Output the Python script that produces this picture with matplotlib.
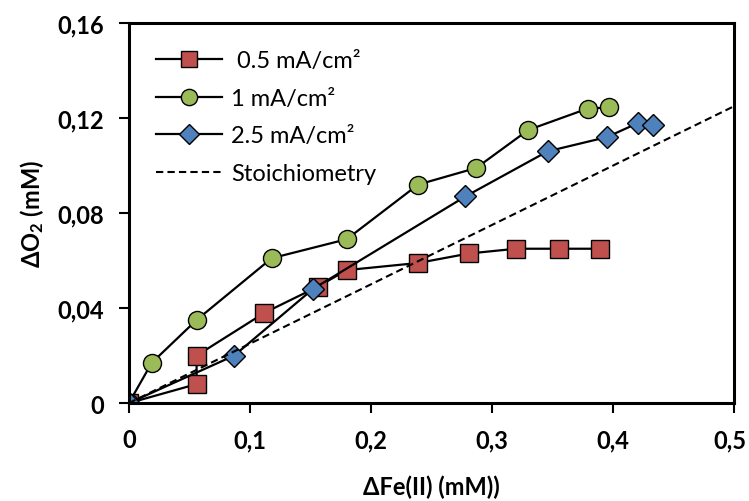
import matplotlib
matplotlib.use("Agg")
import matplotlib.pyplot as plt
import matplotlib.transforms as mtransforms
from matplotlib.ticker import FuncFormatter

plt.rcParams['font.family'] = ['Lato', 'DejaVu Sans']
plt.rcParams['mathtext.default'] = 'regular'

# 0.5 mA/cm2
fe_05 = [0.0, 0.056, 0.056, 0.112, 0.156, 0.180, 0.239, 0.281, 0.320, 0.355, 0.389]
o2_05 = [0.0, 0.008, 0.020, 0.038, 0.049, 0.056, 0.059, 0.063, 0.065, 0.065, 0.065]
# 1 mA/cm2
fe_1 = [0.0, 0.019, 0.056, 0.118, 0.180, 0.239, 0.287, 0.330, 0.379, 0.397]
o2_1 = [0.0, 0.017, 0.035, 0.061, 0.069, 0.092, 0.099, 0.115, 0.124, 0.1245]
# 2.5 mA/cm2
fe_25 = [0.0, 0.087, 0.152, 0.278, 0.346, 0.395, 0.421, 0.433]
o2_25 = [0.0, 0.020, 0.048, 0.087, 0.106, 0.112, 0.118, 0.117]
# stoichiometry line
fe_st = [0.0, 0.5]
o2_st = [0.0, 0.125]

fig = plt.figure(figsize=(7.49, 5.02), dpi=100)
ax = fig.add_axes([0.172, 0.195, 0.808, 0.757])

mk = dict(markeredgecolor='black', markeredgewidth=1.0, color='black', lw=1.6)
ax.plot(fe_05, o2_05, marker='s', ms=13, markerfacecolor='#C0504D', label=' 0.5 mA/cm²', **mk)
ax.plot(fe_1, o2_1, marker='o', ms=13, markerfacecolor='#9BBB59', label='1 mA/cm²', **mk)
ax.plot(fe_25, o2_25, marker='D', ms=11, markerfacecolor='#4F81BD', label='2.5 mA/cm²', **mk)
ax.plot(fe_st, o2_st, ls=(0, (3.5, 2)), color='black', lw=1.5, label='Stoichiometry')

ax.set_xlim(0, 0.5)
ax.set_ylim(0, 0.16)
ax.set_xticks([0, 0.1, 0.2, 0.3, 0.4, 0.5])
ax.set_yticks([0, 0.04, 0.08, 0.12, 0.16])
fmt = lambda v, p: ('%g' % round(v, 3)).replace('.', ',')
ax.xaxis.set_major_formatter(FuncFormatter(fmt))
ax.yaxis.set_major_formatter(FuncFormatter(fmt))
ax.tick_params(direction='out', length=7, width=1.5, pad=11, labelsize=17)
for t in ax.get_xticklabels() + ax.get_yticklabels():
    t.set_fontweight('bold')
# keep the last x label inside the canvas
last = ax.get_xticklabels()[-1]
last.set_transform(last.get_transform() +
                   mtransforms.ScaledTranslation(-4 / 100, 0, fig.dpi_scale_trans))
for s in ax.spines.values():
    s.set_linewidth(2.2)

ax.set_xlabel('ΔFe(II) (mM))', fontsize=17, fontweight='bold', labelpad=17)
ax.set_ylabel('Δ$O_2$ (mM)', fontsize=17, fontweight='bold', labelpad=8)

ax.legend(loc='upper left', bbox_to_anchor=(0.017, 0.972), frameon=False, fontsize=17,
          handlelength=2.8, handletextpad=0.4, labelspacing=0.7, markerscale=0.9,
          borderaxespad=0.3)

fig.savefig('out.png', dpi=100)
